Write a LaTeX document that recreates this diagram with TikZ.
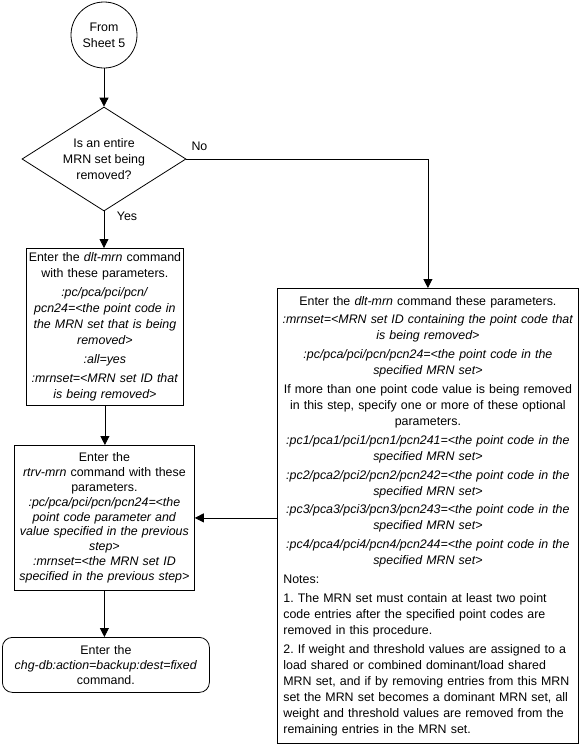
\documentclass[tikz,border=0pt]{standalone}
\usepackage{fontspec}
\setmainfont{Liberation Sans}
\usetikzlibrary{shapes.geometric,arrows.meta}
\frenchspacing
\newcommand\mypar[1][2.8pt]{\par\vspace{#1}}
\begin{document}
\begin{tikzpicture}[x=1pt,y=-1pt,
  arr/.style={line width=0.8pt,-{Triangle[length=9pt,width=9pt]}},
  box/.style={draw,line width=0.8pt,inner xsep=2pt,inner ysep=0pt,anchor=north west},
  txt/.style={font=\fontsize{12.4}{16}\selectfont}]
\useasboundingbox (0,0) rectangle (580,748);
\node[draw,circle,line width=0.8pt,minimum size=66,inner sep=0,align=center,txt] (start) at (104,35) {From\\Sheet 5};
\node[diamond,draw,line width=0.8pt,minimum width=164,minimum height=104,inner sep=0,aspect=1.6,align=center,txt] (dec) at (104,159) {Is an entire\\MRN set being\\removed?};
\node[txt,anchor=west] (no) at (188,146) {No};
\node[txt] (yes) at (127,216) {Yes};
\node[box,txt,minimum width=157,minimum height=157,text width=153] (dlt) at (26,248) {\centering
Enter the \textit{dlt-mrn} command\\ with these parameters.\mypar
\textit{:pc/pca/pci/pcn/}\\ \textit{pcn24=<the point code in}\\ \textit{the MRN set that is being}\\ \textit{removed>}\mypar
\textit{:all=yes}\mypar
\textit{:mrnset=<MRN set ID that}\\ \textit{is being removed>}\par};
\node[box,font=\fontsize{12.4}{14.8}\selectfont,minimum width=180,minimum height=145,text width=176] (rtrv) at (14,445) {\centering
Enter the\\ \textit{rtrv-mrn} command with these\\ parameters.\\
\textit{:pc/pca/pci/pcn/pcn24=<the}\\ \textit{point code parameter and}\\ \textit{value specified in the previous}\\ \textit{step>}\\
\textit{:mrnset=<the MRN set ID}\\ \textit{specified in the previous step>}\par};
\node[box,rounded corners=10pt,font=\fontsize{12.4}{15}\selectfont,minimum width=207,minimum height=55,text width=203] (chg) at (2,637) {\centering
Enter the\\ \textit{chg-db:action=backup:dest=fixed}\\ command.\par};
\node[box,txt,minimum width=301,minimum height=455,text width=297] (rb) at (277,288) {\centering
Enter the \textit{dlt-mrn} command these parameters.\mypar
\textit{:mrnset=<MRN set ID containing the point code that}\\ \textit{is being removed>}\mypar
\textit{:pc/pca/pci/pcn/pcn24=<the point code in the}\\ \textit{specified MRN set>}\mypar
If more than one point code value is being removed\\ in this step, specify one or more of these optional\\ parameters.\mypar
\textit{:pc1/pca1/pci1/pcn1/pcn241=<the point code in the}\\ \textit{specified MRN set>}\mypar
\textit{:pc2/pca2/pci2/pcn2/pcn242=<the point code in the}\\ \textit{specified MRN set>}\mypar
\textit{:pc3/pca3/pci3/pcn3/pcn243=<the point code in the}\\ \textit{specified MRN set>}\mypar
\textit{:pc4/pca4/pci4/pcn4/pcn244=<the point code in the}\\ \textit{specified MRN set>}\mypar
\raggedright\leftskip=4pt
Notes:\mypar
1. The MRN set must contain at least two point\\ code entries after the specified point codes are\\ removed in this procedure.\mypar
2. If weight and threshold values are assigned to a\\ load shared or combined dominant/load shared\\ MRN set, and if by removing entries from this MRN\\ set the MRN set becomes a dominant MRN set, all\\ weight and threshold values are removed from the\\ remaining entries in the MRN set.\par};
\draw[arr] (start.south) -- (dec.north);
\draw[arr] (dec.south) -- (dec.south |- dlt.north);
\draw[arr] (dec.east) -- (rb.north |- dec.east) -- (rb.north);
\draw[arr] (dlt.south) -- (dlt.south |- rtrv.north);
\draw[arr] (rtrv.south) -- (rtrv.south |- chg.north);
\draw[arr] (rb.west |- rtrv.east) -- (rtrv.east);
\end{tikzpicture}
\end{document}
